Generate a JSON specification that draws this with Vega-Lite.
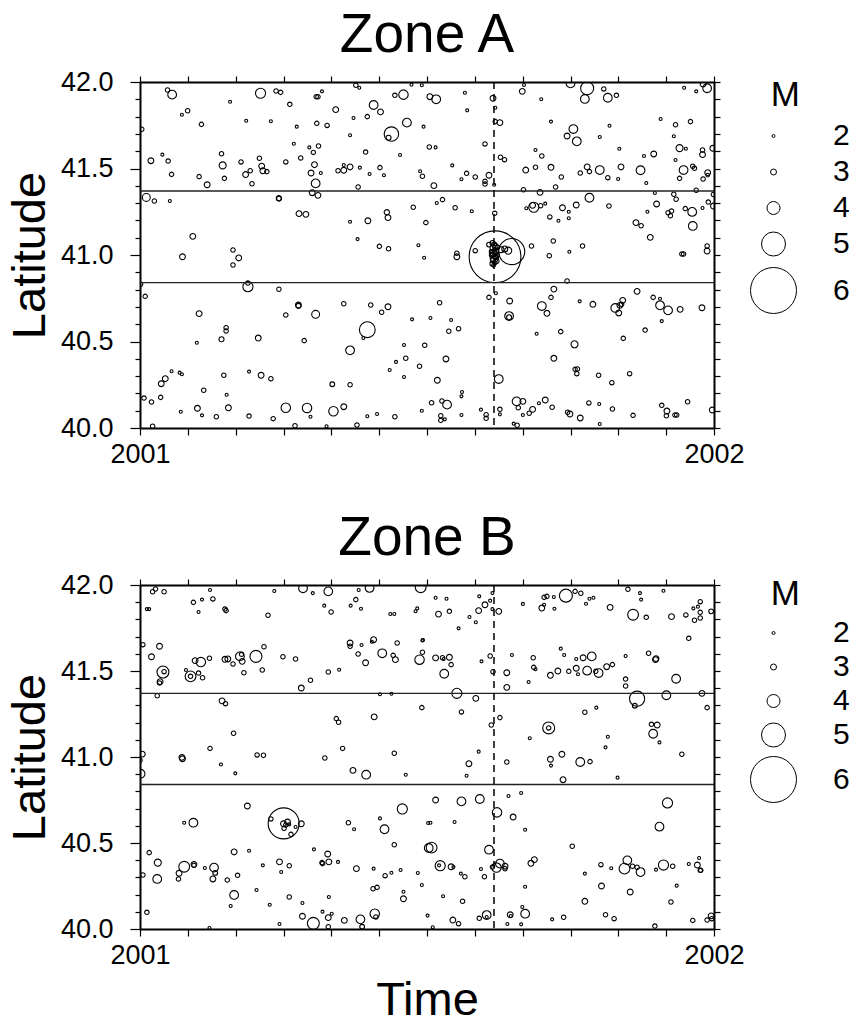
{
  "$schema": "https://vega.github.io/schema/vega-lite/v6.json",
  "background": "white",
  "padding": {"left": 6, "top": 8, "right": 5, "bottom": 0},
  "spacing": 44,
  "config": {
    "font": "Liberation Sans",
    "view": {"stroke": null},
    "axis": {"domainColor": "black", "domainWidth": 2, "tickColor": "black", "tickWidth": 1.2, "labelColor": "black", "titleColor": "black", "labelFont": "Liberation Sans", "titleFont": "Liberation Sans", "titleFontWeight": "normal", "labelFontSize": 27, "titleFontSize": 47, "grid": false, "labelFlush": false},
    "legend": {"titleFont": "Liberation Sans", "labelFont": "Liberation Sans", "titleColor": "black", "labelColor": "black"},
    "title": {"font": "Liberation Sans", "fontSize": 55, "fontWeight": "normal", "color": "black", "anchor": "middle"}
  },
  "datasets": {
    "zoneA": [
      {"t":2001.048,"lat":41.954,"m":2.4},{"t":2001.056,"lat":41.927,"m":3.3},{"t":2001.157,"lat":41.886,"m":2.0},{"t":2001.210,"lat":41.935,"m":3.5},{"t":2001.237,"lat":41.948,"m":2.4},{"t":2001.245,"lat":41.940,"m":2.4},{"t":2001.261,"lat":41.871,"m":2.4},{"t":2001.307,"lat":41.915,"m":2.4},{"t":2001.310,"lat":41.915,"m":2.4},{"t":2001.317,"lat":41.946,"m":2.0},{"t":2001.376,"lat":41.981,"m":2.4},{"t":2001.382,"lat":41.967,"m":2.0},{"t":2001.073,"lat":41.811,"m":2.0},{"t":2001.083,"lat":41.834,"m":2.4},{"t":2001.107,"lat":41.755,"m":2.4},{"t":2001.185,"lat":41.776,"m":2.0},{"t":2001.228,"lat":41.773,"m":2.0},{"t":2001.273,"lat":41.742,"m":2.0},{"t":2001.308,"lat":41.761,"m":2.4},{"t":2001.326,"lat":41.749,"m":2.4},{"t":2001.341,"lat":41.840,"m":2.9},{"t":2001.372,"lat":41.792,"m":2.0},{"t":2001.366,"lat":41.692,"m":2.0},{"t":2001.396,"lat":41.800,"m":2.4},{"t":2001.407,"lat":41.867,"m":3.3},{"t":2001.419,"lat":41.827,"m":2.9},{"t":2001.438,"lat":41.699,"m":4.1},{"t":2001.433,"lat":41.678,"m":2.6},{"t":2001.465,"lat":41.765,"m":3.3},{"t":2001.494,"lat":41.742,"m":2.0},{"t":2001.444,"lat":41.923,"m":2.4},{"t":2001.459,"lat":41.927,"m":3.4},{"t":2001.473,"lat":41.984,"m":2.0},{"t":2001.491,"lat":41.981,"m":2.0},
      {"t":2001.003,"lat":41.727,"m":2.4},{"t":2001.019,"lat":41.545,"m":2.9},{"t":2001.039,"lat":41.580,"m":2.0},{"t":2001.049,"lat":41.543,"m":2.4},{"t":2001.055,"lat":41.466,"m":2.4},{"t":2001.103,"lat":41.453,"m":2.4},{"t":2001.117,"lat":41.406,"m":2.9},{"t":2001.142,"lat":41.585,"m":2.4},{"t":2001.144,"lat":41.518,"m":3.1},{"t":2001.147,"lat":41.443,"m":2.4},{"t":2001.176,"lat":41.538,"m":2.4},{"t":2001.184,"lat":41.465,"m":2.9},{"t":2001.192,"lat":41.487,"m":2.4},{"t":2001.195,"lat":41.412,"m":2.4},{"t":2001.208,"lat":41.559,"m":2.4},{"t":2001.212,"lat":41.514,"m":2.9},{"t":2001.214,"lat":41.487,"m":2.9},{"t":2001.221,"lat":41.482,"m":2.4},{"t":2001.254,"lat":41.538,"m":2.4},{"t":2001.268,"lat":41.643,"m":2.0},{"t":2001.280,"lat":41.561,"m":2.4},{"t":2001.295,"lat":41.622,"m":2.0},{"t":2001.302,"lat":41.593,"m":2.4},{"t":2001.311,"lat":41.630,"m":2.4},{"t":2001.304,"lat":41.522,"m":2.9},{"t":2001.298,"lat":41.474,"m":2.9},{"t":2001.315,"lat":41.474,"m":2.0},{"t":2001.306,"lat":41.414,"m":3.3},{"t":2001.345,"lat":41.487,"m":2.4},{"t":2001.355,"lat":41.520,"m":2.0},{"t":2001.355,"lat":41.490,"m":2.9},{"t":2001.366,"lat":41.509,"m":2.9},{"t":2001.383,"lat":41.505,"m":2.0},{"t":2001.400,"lat":41.468,"m":2.0},{"t":2001.418,"lat":41.505,"m":2.4},{"t":2001.425,"lat":41.461,"m":2.0},{"t":2001.380,"lat":41.393,"m":2.4},{"t":2001.393,"lat":41.595,"m":2.4},{"t":2001.453,"lat":41.578,"m":2.0},{"t":2001.488,"lat":41.484,"m":2.0},{"t":2001.492,"lat":41.455,"m":2.4},{"t":2001.504,"lat":41.624,"m":2.4},
      {"t":2001.011,"lat":41.333,"m":3.2},{"t":2001.025,"lat":41.312,"m":2.4},{"t":2001.052,"lat":41.312,"m":2.0},{"t":2001.242,"lat":41.326,"m":2.5},{"t":2001.242,"lat":41.328,"m":2.7},{"t":2001.300,"lat":41.360,"m":2.9},{"t":2001.310,"lat":41.345,"m":2.9},{"t":2001.277,"lat":41.239,"m":2.9},{"t":2001.289,"lat":41.235,"m":2.9},{"t":2001.092,"lat":41.108,"m":2.9},{"t":2001.162,"lat":41.029,"m":2.4},{"t":2001.366,"lat":41.192,"m":2.0},{"t":2001.397,"lat":41.198,"m":2.9},{"t":2001.430,"lat":41.247,"m":2.7},{"t":2001.432,"lat":41.216,"m":2.9},{"t":2001.476,"lat":41.276,"m":2.4},{"t":2001.498,"lat":41.187,"m":2.4},{"t":2001.379,"lat":41.092,"m":2.0},{"t":2001.417,"lat":41.050,"m":2.4},{"t":2001.433,"lat":41.036,"m":2.4},{"t":2001.485,"lat":41.056,"m":2.0},{"t":2001.074,"lat":40.990,"m":2.9},
      {"t":2001.162,"lat":40.942,"m":2.4},{"t":2001.172,"lat":40.983,"m":2.9},{"t":2001.495,"lat":40.984,"m":2.0},{"t":2001.001,"lat":40.831,"m":2.4},{"t":2001.009,"lat":40.761,"m":2.4},{"t":2001.188,"lat":40.817,"m":3.5},{"t":2001.188,"lat":40.838,"m":2.4},{"t":2001.242,"lat":40.802,"m":2.4},{"t":2001.276,"lat":40.711,"m":2.9},{"t":2001.276,"lat":40.706,"m":2.6},{"t":2001.103,"lat":40.661,"m":2.9},{"t":2001.254,"lat":40.653,"m":2.4},{"t":2001.306,"lat":40.657,"m":3.2},{"t":2001.355,"lat":40.718,"m":2.4},{"t":2001.402,"lat":40.711,"m":2.4},{"t":2001.421,"lat":40.669,"m":2.4},{"t":2001.432,"lat":40.701,"m":2.9},{"t":2001.474,"lat":40.628,"m":2.0},{"t":2001.150,"lat":40.580,"m":2.4},{"t":2001.150,"lat":40.561,"m":2.4},{"t":2001.142,"lat":40.513,"m":2.6},{"t":2001.099,"lat":40.493,"m":2.0},{"t":2001.206,"lat":40.520,"m":2.9},{"t":2001.286,"lat":40.505,"m":2.4},{"t":2001.396,"lat":40.568,"m":4.2},{"t":2001.389,"lat":40.520,"m":2.0},{"t":2001.366,"lat":40.449,"m":3.3},{"t":2001.460,"lat":40.480,"m":2.0},{"t":2001.496,"lat":40.478,"m":2.4},{"t":2001.446,"lat":40.382,"m":2.0},{"t":2001.463,"lat":40.403,"m":2.4},{"t":2001.435,"lat":40.335,"m":2.0},{"t":2001.460,"lat":40.295,"m":2.0},{"t":2001.487,"lat":40.357,"m":2.4},{"t":2001.055,"lat":40.328,"m":2.0},{"t":2001.044,"lat":40.285,"m":2.9},{"t":2001.037,"lat":40.256,"m":2.9},{"t":2001.069,"lat":40.320,"m":2.0},{"t":2001.073,"lat":40.311,"m":2.0},{"t":2001.146,"lat":40.305,"m":2.4},{"t":2001.190,"lat":40.326,"m":2.0},{"t":2001.211,"lat":40.305,"m":2.9},{"t":2001.228,"lat":40.285,"m":2.4},{"t":2001.111,"lat":40.218,"m":2.4},{"t":2001.151,"lat":40.192,"m":2.0},{"t":2001.335,"lat":40.253,"m":2.5},{"t":2001.366,"lat":40.250,"m":2.4},{"t":2001.007,"lat":40.173,"m":2.4},{"t":2001.020,"lat":40.150,"m":2.4},{"t":2001.036,"lat":40.177,"m":2.4},{"t":2001.071,"lat":40.094,"m":2.0},{"t":2001.100,"lat":40.114,"m":2.9},{"t":2001.108,"lat":40.073,"m":2.0},{"t":2001.133,"lat":40.065,"m":2.4},{"t":2001.154,"lat":40.117,"m":2.9},{"t":2001.190,"lat":40.069,"m":2.4},{"t":2001.232,"lat":40.054,"m":2.4},{"t":2001.254,"lat":40.117,"m":3.4},{"t":2001.291,"lat":40.116,"m":3.4},{"t":2001.297,"lat":40.065,"m":2.0},{"t":2001.337,"lat":40.097,"m":3.4},{"t":2001.355,"lat":40.123,"m":2.9},{"t":2001.396,"lat":40.068,"m":2.0},{"t":2001.413,"lat":40.081,"m":2.0},{"t":2001.444,"lat":40.065,"m":2.4},{"t":2001.491,"lat":40.100,"m":2.0},{"t":2001.022,"lat":40.010,"m":2.4},{"t":2001.270,"lat":40.013,"m":2.4},{"t":2001.325,"lat":40.010,"m":2.0},{"t":2001.378,"lat":40.017,"m":2.4},
      {"t":2001.566,"lat":41.938,"m":2.0},{"t":2001.505,"lat":41.915,"m":2.9},{"t":2001.516,"lat":41.900,"m":3.3},{"t":2001.570,"lat":41.836,"m":2.0},{"t":2001.615,"lat":41.906,"m":2.9},{"t":2001.619,"lat":41.851,"m":2.0},{"t":2001.619,"lat":41.771,"m":2.4},{"t":2001.627,"lat":41.765,"m":2.9},{"t":2001.601,"lat":41.642,"m":2.4},{"t":2001.515,"lat":41.622,"m":2.0},{"t":2001.544,"lat":41.518,"m":2.0},{"t":2001.560,"lat":41.438,"m":2.0},{"t":2001.569,"lat":41.472,"m":2.4},{"t":2001.584,"lat":41.451,"m":2.4},{"t":2001.608,"lat":41.461,"m":2.9},{"t":2001.601,"lat":41.426,"m":2.4},{"t":2001.601,"lat":41.410,"m":2.4},{"t":2001.617,"lat":41.406,"m":2.0},{"t":2001.512,"lat":41.401,"m":2.9},{"t":2001.628,"lat":41.565,"m":2.4},{"t":2001.635,"lat":41.551,"m":2.4},{"t":2001.666,"lat":41.946,"m":2.9},{"t":2001.669,"lat":41.983,"m":2.0},{"t":2001.699,"lat":41.900,"m":2.0},{"t":2001.750,"lat":41.992,"m":3.3},{"t":2001.779,"lat":41.964,"m":4.0},{"t":2001.775,"lat":41.902,"m":3.3},{"t":2001.808,"lat":41.960,"m":2.4},{"t":2001.815,"lat":41.909,"m":3.3},{"t":2001.830,"lat":41.923,"m":2.4},{"t":2001.716,"lat":41.771,"m":2.0},{"t":2001.755,"lat":41.728,"m":3.3},{"t":2001.744,"lat":41.688,"m":2.9},{"t":2001.761,"lat":41.657,"m":3.3},{"t":2001.801,"lat":41.682,"m":2.0},{"t":2001.818,"lat":41.747,"m":2.0},{"t":2001.689,"lat":41.607,"m":2.0},{"t":2001.700,"lat":41.572,"m":2.4},{"t":2001.672,"lat":41.491,"m":2.9},{"t":2001.689,"lat":41.507,"m":2.4},{"t":2001.716,"lat":41.507,"m":2.9},{"t":2001.734,"lat":41.451,"m":2.4},{"t":2001.724,"lat":41.393,"m":2.4},{"t":2001.767,"lat":41.474,"m":2.4},{"t":2001.779,"lat":41.509,"m":2.9},{"t":2001.783,"lat":41.482,"m":2.4},{"t":2001.801,"lat":41.491,"m":3.3},{"t":2001.815,"lat":41.447,"m":2.4},{"t":2001.833,"lat":41.439,"m":2.0},{"t":2001.835,"lat":41.614,"m":2.0},{"t":2001.838,"lat":41.509,"m":2.9},{"t":2001.872,"lat":41.490,"m":3.3},{"t":2001.878,"lat":41.572,"m":2.0},{"t":2001.895,"lat":41.584,"m":2.9},{"t":2001.882,"lat":41.416,"m":2.0},{"t":2001.907,"lat":41.786,"m":2.0},{"t":2001.933,"lat":41.753,"m":2.4},{"t":2001.930,"lat":41.686,"m":2.0},{"t":2001.959,"lat":41.771,"m":2.4},{"t":2001.940,"lat":41.618,"m":3.1},{"t":2001.951,"lat":41.614,"m":2.0},{"t":2001.933,"lat":41.549,"m":2.0},{"t":2001.980,"lat":41.607,"m":2.4},{"t":2001.980,"lat":41.580,"m":2.9},{"t":2001.998,"lat":41.617,"m":2.9},{"t":2001.947,"lat":41.491,"m":3.3},{"t":2001.963,"lat":41.513,"m":2.4},{"t":2001.966,"lat":41.501,"m":2.4},{"t":2001.940,"lat":41.443,"m":2.4},{"t":2001.981,"lat":41.439,"m":2.4},{"t":2001.989,"lat":41.476,"m":2.9},{"t":2001.989,"lat":41.462,"m":2.2},{"t":2001.948,"lat":41.967,"m":2.0},{"t":2001.969,"lat":41.946,"m":2.0},{"t":2001.981,"lat":41.988,"m":2.9},{"t":2001.988,"lat":41.964,"m":3.3},
      {"t":2001.668,"lat":41.377,"m":2.4},{"t":2001.697,"lat":41.362,"m":2.9},{"t":2001.517,"lat":41.301,"m":2.0},{"t":2001.527,"lat":41.320,"m":2.4},{"t":2001.549,"lat":41.273,"m":2.4},{"t":2001.578,"lat":41.253,"m":2.0},{"t":2001.618,"lat":41.241,"m":2.4},{"t":2001.684,"lat":41.287,"m":2.9},{"t":2001.686,"lat":41.276,"m":3.5},{"t":2001.673,"lat":41.270,"m":2.0},{"t":2001.698,"lat":41.285,"m":2.4},{"t":2001.706,"lat":41.297,"m":2.0},{"t":2001.714,"lat":41.220,"m":2.4},{"t":2001.729,"lat":41.198,"m":2.0},{"t":2001.736,"lat":41.273,"m":2.9},{"t":2001.747,"lat":41.250,"m":2.0},{"t":2001.747,"lat":41.212,"m":2.0},{"t":2001.760,"lat":41.289,"m":2.9},{"t":2001.783,"lat":41.331,"m":3.3},{"t":2001.817,"lat":41.283,"m":2.4},{"t":2001.720,"lat":41.081,"m":2.4},{"t":2001.771,"lat":41.052,"m":2.4},{"t":2001.748,"lat":41.019,"m":2.0},{"t":2001.682,"lat":41.052,"m":2.4},{"t":2001.552,"lat":41.010,"m":2.4},{"t":2001.584,"lat":41.025,"m":2.4},{"t":2001.864,"lat":41.187,"m":2.9},{"t":2001.873,"lat":41.169,"m":2.4},{"t":2001.884,"lat":41.250,"m":2.0},{"t":2001.897,"lat":41.358,"m":2.0},{"t":2001.900,"lat":41.295,"m":2.9},{"t":2001.889,"lat":41.102,"m":2.9},{"t":2001.920,"lat":41.244,"m":2.4},{"t":2001.926,"lat":41.254,"m":2.4},{"t":2001.924,"lat":41.227,"m":2.4},{"t":2001.930,"lat":41.351,"m":2.4},{"t":2001.934,"lat":41.322,"m":2.4},{"t":2001.950,"lat":41.268,"m":2.4},{"t":2001.962,"lat":41.249,"m":3.3},{"t":2001.963,"lat":41.168,"m":3.3},{"t":2001.980,"lat":41.272,"m":2.0},{"t":2001.990,"lat":41.306,"m":2.4},{"t":2001.999,"lat":41.283,"m":2.9},{"t":2001.999,"lat":41.350,"m":2.4},{"t":2001.969,"lat":41.374,"m":2.4},{"t":2001.988,"lat":41.052,"m":2.4},{"t":2001.988,"lat":41.023,"m":2.9},{"t":2001.944,"lat":41.006,"m":2.4},{"t":2001.947,"lat":41.006,"m":2.4},
      {"t":2001.6185,"lat":40.990,"m":6.1},{"t":2001.6475,"lat":41.020,"m":5.07},{"t":2001.614,"lat":41.070,"m":2.5},{"t":2001.617,"lat":41.060,"m":2.6},{"t":2001.619,"lat":41.050,"m":2.8},{"t":2001.615,"lat":41.040,"m":3.0},{"t":2001.618,"lat":41.030,"m":2.4},{"t":2001.620,"lat":41.020,"m":2.7},{"t":2001.616,"lat":41.010,"m":3.1},{"t":2001.613,"lat":41.000,"m":2.6},{"t":2001.619,"lat":40.990,"m":2.9},{"t":2001.617,"lat":40.980,"m":3.2},{"t":2001.615,"lat":40.970,"m":2.5},{"t":2001.621,"lat":40.965,"m":2.7},{"t":2001.618,"lat":40.955,"m":2.4},{"t":2001.614,"lat":40.950,"m":2.6},{"t":2001.620,"lat":40.985,"m":2.3},{"t":2001.612,"lat":41.020,"m":2.3},{"t":2001.622,"lat":41.000,"m":2.5},{"t":2001.616,"lat":40.940,"m":2.2},{"t":2001.623,"lat":41.045,"m":2.4},{"t":2001.629,"lat":41.030,"m":3.0},{"t":2001.6355,"lat":41.035,"m":3.0},{"t":2001.6415,"lat":41.025,"m":3.1},{"t":2001.608,"lat":41.060,"m":2.5},
      {"t":2001.552,"lat":40.990,"m":2.9},{"t":2001.713,"lat":40.996,"m":2.4},{"t":2001.744,"lat":40.850,"m":2.4},{"t":2001.721,"lat":40.803,"m":2.9},{"t":2001.716,"lat":40.755,"m":2.4},{"t":2001.608,"lat":40.755,"m":2.4},{"t":2001.620,"lat":40.779,"m":2.0},{"t":2001.644,"lat":40.734,"m":2.9},{"t":2001.643,"lat":40.647,"m":3.3},{"t":2001.643,"lat":40.640,"m":2.6},{"t":2001.522,"lat":40.724,"m":2.4},{"t":2001.506,"lat":40.636,"m":2.0},{"t":2001.542,"lat":40.624,"m":2.0},{"t":2001.538,"lat":40.559,"m":2.4},{"t":2001.555,"lat":40.574,"m":2.4},{"t":2001.700,"lat":40.705,"m":3.3},{"t":2001.709,"lat":40.663,"m":2.9},{"t":2001.691,"lat":40.545,"m":2.0},{"t":2001.733,"lat":40.557,"m":2.4},{"t":2001.766,"lat":40.732,"m":2.0},{"t":2001.789,"lat":40.715,"m":2.9},{"t":2001.757,"lat":40.484,"m":3.1},{"t":2001.721,"lat":40.403,"m":2.9},{"t":2001.758,"lat":40.339,"m":2.4},{"t":2001.762,"lat":40.341,"m":2.4},{"t":2001.761,"lat":40.314,"m":2.4},{"t":2001.799,"lat":40.305,"m":2.4},{"t":2001.822,"lat":40.262,"m":2.4},{"t":2001.853,"lat":40.314,"m":2.4},{"t":2001.828,"lat":40.694,"m":3.3},{"t":2001.834,"lat":40.665,"m":2.9},{"t":2001.836,"lat":40.709,"m":2.9},{"t":2001.841,"lat":40.738,"m":2.9},{"t":2001.839,"lat":40.715,"m":2.4},{"t":2001.842,"lat":40.518,"m":2.4},{"t":2001.866,"lat":40.790,"m":2.9},{"t":2001.880,"lat":40.566,"m":2.4},{"t":2001.894,"lat":40.755,"m":2.4},{"t":2001.906,"lat":40.747,"m":2.0},{"t":2001.906,"lat":40.709,"m":3.3},{"t":2001.920,"lat":40.680,"m":3.3},{"t":2001.909,"lat":40.618,"m":2.0},{"t":2001.941,"lat":40.686,"m":2.9},{"t":2001.979,"lat":40.695,"m":2.9},{"t":2001.533,"lat":40.399,"m":2.9},{"t":2001.518,"lat":40.276,"m":2.9},{"t":2001.625,"lat":40.283,"m":3.3},{"t":2001.561,"lat":40.208,"m":2.0},{"t":2001.560,"lat":40.183,"m":2.0},{"t":2001.508,"lat":40.146,"m":2.4},{"t":2001.526,"lat":40.156,"m":2.4},{"t":2001.535,"lat":40.135,"m":3.3},{"t":2001.524,"lat":40.071,"m":2.4},{"t":2001.524,"lat":40.044,"m":2.4},{"t":2001.531,"lat":40.050,"m":2.0},{"t":2001.560,"lat":40.075,"m":2.0},{"t":2001.594,"lat":40.106,"m":2.0},{"t":2001.603,"lat":40.077,"m":2.4},{"t":2001.603,"lat":40.056,"m":2.4},{"t":2001.627,"lat":40.108,"m":2.4},{"t":2001.627,"lat":40.079,"m":2.0},{"t":2001.656,"lat":40.154,"m":3.3},{"t":2001.667,"lat":40.154,"m":2.9},{"t":2001.659,"lat":40.117,"m":2.4},{"t":2001.667,"lat":40.075,"m":2.0},{"t":2001.651,"lat":40.025,"m":2.0},{"t":2001.657,"lat":40.016,"m":2.4},{"t":2001.678,"lat":40.085,"m":2.4},{"t":2001.684,"lat":40.108,"m":2.9},{"t":2001.695,"lat":40.143,"m":2.0},{"t":2001.706,"lat":40.162,"m":2.9},{"t":2001.718,"lat":40.120,"m":2.4},{"t":2001.745,"lat":40.091,"m":2.4},{"t":2001.749,"lat":40.081,"m":2.9},{"t":2001.767,"lat":40.058,"m":2.9},{"t":2001.782,"lat":40.145,"m":2.4},{"t":2001.800,"lat":40.139,"m":2.0},{"t":2001.801,"lat":40.023,"m":2.0},{"t":2001.823,"lat":40.110,"m":2.4},{"t":2001.859,"lat":40.073,"m":2.4},{"t":2001.909,"lat":40.131,"m":2.4},{"t":2001.918,"lat":40.098,"m":2.9},{"t":2001.917,"lat":40.071,"m":2.4},{"t":2001.932,"lat":40.075,"m":2.4},{"t":2001.935,"lat":40.075,"m":2.4},{"t":2001.954,"lat":40.152,"m":2.4},{"t":2001.997,"lat":40.104,"m":2.9}
    ],
    "zoneB": [
      {"t":2001.022,"lat":41.961,"m":2.4},{"t":2001.027,"lat":41.977,"m":2.4},{"t":2001.042,"lat":41.961,"m":2.4},{"t":2001.122,"lat":41.971,"m":2.0},{"t":2001.093,"lat":41.899,"m":2.4},{"t":2001.108,"lat":41.915,"m":2.0},{"t":2001.127,"lat":41.919,"m":2.4},{"t":2001.102,"lat":41.843,"m":2.0},{"t":2001.012,"lat":41.860,"m":2.0},{"t":2001.016,"lat":41.860,"m":2.0},{"t":2001.148,"lat":41.860,"m":2.4},{"t":2001.150,"lat":41.851,"m":2.4},{"t":2001.223,"lat":41.824,"m":2.4},{"t":2001.234,"lat":41.965,"m":2.0},{"t":2001.284,"lat":41.981,"m":3.3},{"t":2001.301,"lat":41.953,"m":2.0},{"t":2001.328,"lat":41.963,"m":3.3},{"t":2001.321,"lat":41.880,"m":2.0},{"t":2001.333,"lat":41.843,"m":2.4},{"t":2001.376,"lat":41.915,"m":2.4},{"t":2001.367,"lat":41.880,"m":2.0},{"t":2001.381,"lat":41.971,"m":2.0},{"t":2001.385,"lat":41.862,"m":2.0},{"t":2001.400,"lat":41.983,"m":3.3},{"t":2001.436,"lat":41.831,"m":2.0},{"t":2001.443,"lat":41.831,"m":2.0},{"t":2001.480,"lat":41.847,"m":2.0},{"t":2001.483,"lat":41.864,"m":2.0},{"t":2001.489,"lat":41.987,"m":3.6},
      {"t":2001.005,"lat":41.653,"m":2.4},{"t":2001.034,"lat":41.644,"m":2.9},{"t":2001.020,"lat":41.583,"m":2.9},{"t":2001.040,"lat":41.494,"m":3.8},{"t":2001.042,"lat":41.496,"m":2.4},{"t":2001.035,"lat":41.438,"m":2.9},{"t":2001.034,"lat":41.430,"m":2.4},{"t":2001.080,"lat":41.506,"m":2.0},{"t":2001.088,"lat":41.469,"m":3.6},{"t":2001.088,"lat":41.469,"m":2.4},{"t":2001.096,"lat":41.560,"m":2.9},{"t":2001.106,"lat":41.552,"m":3.4},{"t":2001.102,"lat":41.488,"m":2.4},{"t":2001.109,"lat":41.461,"m":2.4},{"t":2001.121,"lat":41.574,"m":2.4},{"t":2001.148,"lat":41.568,"m":2.9},{"t":2001.153,"lat":41.570,"m":2.9},{"t":2001.162,"lat":41.541,"m":2.4},{"t":2001.174,"lat":41.585,"m":3.3},{"t":2001.178,"lat":41.556,"m":2.9},{"t":2001.177,"lat":41.597,"m":2.4},{"t":2001.181,"lat":41.490,"m":2.4},{"t":2001.202,"lat":41.585,"m":3.8},{"t":2001.216,"lat":41.641,"m":2.4},{"t":2001.213,"lat":41.506,"m":2.4},{"t":2001.249,"lat":41.583,"m":2.4},{"t":2001.271,"lat":41.570,"m":2.4},{"t":2001.281,"lat":41.401,"m":2.9},{"t":2001.297,"lat":41.446,"m":2.4},{"t":2001.328,"lat":41.494,"m":2.4},{"t":2001.347,"lat":41.507,"m":2.0},{"t":2001.366,"lat":41.663,"m":2.9},{"t":2001.366,"lat":41.644,"m":2.4},{"t":2001.386,"lat":41.651,"m":2.0},{"t":2001.380,"lat":41.599,"m":2.4},{"t":2001.393,"lat":41.548,"m":2.9},{"t":2001.404,"lat":41.670,"m":2.0},{"t":2001.407,"lat":41.682,"m":2.9},{"t":2001.422,"lat":41.603,"m":3.3},{"t":2001.441,"lat":41.591,"m":2.4},{"t":2001.445,"lat":41.566,"m":2.9},{"t":2001.448,"lat":41.663,"m":2.4},{"t":2001.487,"lat":41.566,"m":3.4},{"t":2001.492,"lat":41.678,"m":2.0},{"t":2001.492,"lat":41.609,"m":2.4},
      {"t":2001.030,"lat":41.356,"m":2.4},{"t":2001.143,"lat":41.326,"m":2.9},{"t":2001.149,"lat":41.310,"m":2.4},{"t":2001.163,"lat":41.138,"m":2.4},{"t":2001.122,"lat":41.050,"m":2.4},{"t":2001.004,"lat":41.017,"m":2.9},{"t":2001.204,"lat":41.012,"m":2.4},{"t":2001.215,"lat":41.010,"m":2.4},{"t":2001.322,"lat":40.994,"m":2.4},{"t":2001.342,"lat":41.223,"m":2.4},{"t":2001.346,"lat":41.202,"m":2.4},{"t":2001.353,"lat":41.050,"m":2.4},{"t":2001.408,"lat":41.233,"m":2.9},{"t":2001.418,"lat":41.365,"m":2.0},{"t":2001.438,"lat":41.368,"m":2.0},{"t":2001.443,"lat":41.022,"m":2.4},{"t":2001.491,"lat":41.287,"m":2.4},{"t":2001.073,"lat":40.998,"m":2.9},
      {"t":2001.074,"lat":40.990,"m":2.9},{"t":2001.001,"lat":40.903,"m":3.3},{"t":2001.000,"lat":40.981,"m":2.4},{"t":2001.141,"lat":40.956,"m":2.0},{"t":2001.166,"lat":40.905,"m":2.0},{"t":2001.371,"lat":40.922,"m":2.9},{"t":2001.394,"lat":40.897,"m":3.3},{"t":2001.463,"lat":40.897,"m":2.0},{"t":2001.187,"lat":40.715,"m":2.9},{"t":2001.077,"lat":40.618,"m":2.0},{"t":2001.093,"lat":40.618,"m":3.3},{"t":2001.2503,"lat":40.614,"m":5.25},{"t":2001.228,"lat":40.640,"m":2.4},{"t":2001.250,"lat":40.612,"m":2.9},{"t":2001.257,"lat":40.622,"m":2.9},{"t":2001.254,"lat":40.605,"m":2.4},{"t":2001.260,"lat":40.608,"m":2.0},{"t":2001.251,"lat":40.585,"m":2.4},{"t":2001.263,"lat":40.550,"m":2.4},{"t":2001.271,"lat":40.593,"m":2.0},{"t":2001.281,"lat":40.612,"m":2.9},{"t":2001.363,"lat":40.618,"m":2.4},{"t":2001.373,"lat":40.580,"m":2.0},{"t":2001.418,"lat":40.643,"m":2.0},{"t":2001.426,"lat":40.580,"m":3.3},{"t":2001.457,"lat":40.698,"m":3.5},{"t":2001.443,"lat":40.490,"m":2.4},{"t":2001.502,"lat":40.616,"m":2.0},{"t":2001.503,"lat":40.471,"m":3.3},{"t":2001.016,"lat":40.444,"m":2.4},{"t":2001.031,"lat":40.386,"m":3.1},{"t":2001.077,"lat":40.362,"m":3.6},{"t":2001.094,"lat":40.376,"m":2.9},{"t":2001.094,"lat":40.370,"m":2.4},{"t":2001.113,"lat":40.355,"m":2.0},{"t":2001.129,"lat":40.357,"m":3.3},{"t":2001.131,"lat":40.326,"m":2.5},{"t":2001.068,"lat":40.324,"m":2.9},{"t":2001.067,"lat":40.291,"m":2.4},{"t":2001.030,"lat":40.291,"m":3.3},{"t":2001.005,"lat":40.314,"m":2.4},{"t":2001.127,"lat":40.291,"m":2.9},{"t":2001.152,"lat":40.285,"m":2.4},{"t":2001.164,"lat":40.448,"m":2.9},{"t":2001.190,"lat":40.455,"m":2.0},{"t":2001.170,"lat":40.312,"m":2.4},{"t":2001.164,"lat":40.198,"m":3.3},{"t":2001.158,"lat":40.134,"m":2.0},{"t":2001.012,"lat":40.097,"m":2.4},{"t":2001.121,"lat":40.006,"m":2.0},{"t":2001.203,"lat":40.227,"m":2.0},{"t":2001.214,"lat":40.370,"m":2.0},{"t":2001.226,"lat":40.141,"m":2.0},{"t":2001.243,"lat":40.390,"m":2.9},{"t":2001.246,"lat":40.331,"m":2.0},{"t":2001.260,"lat":40.368,"m":2.4},{"t":2001.260,"lat":40.186,"m":2.4},{"t":2001.243,"lat":40.029,"m":2.0},{"t":2001.283,"lat":40.151,"m":2.0},{"t":2001.303,"lat":40.463,"m":2.0},{"t":2001.327,"lat":40.436,"m":2.9},{"t":2001.317,"lat":40.386,"m":2.4},{"t":2001.318,"lat":40.380,"m":2.4},{"t":2001.329,"lat":40.390,"m":2.9},{"t":2001.345,"lat":40.390,"m":2.0},{"t":2001.329,"lat":40.186,"m":2.0},{"t":2001.283,"lat":40.074,"m":2.9},{"t":2001.302,"lat":40.033,"m":3.8},{"t":2001.318,"lat":40.101,"m":2.0},{"t":2001.328,"lat":40.066,"m":2.9},{"t":2001.334,"lat":40.089,"m":2.0},{"t":2001.328,"lat":40.013,"m":2.4},{"t":2001.356,"lat":40.050,"m":2.9},{"t":2001.384,"lat":40.056,"m":3.3},{"t":2001.387,"lat":40.013,"m":2.5},{"t":2001.377,"lat":40.351,"m":2.9},{"t":2001.407,"lat":40.351,"m":2.0},{"t":2001.427,"lat":40.310,"m":2.4},{"t":2001.438,"lat":40.327,"m":2.0},{"t":2001.454,"lat":40.343,"m":2.0},{"t":2001.484,"lat":40.326,"m":2.0},{"t":2001.406,"lat":40.234,"m":2.4},{"t":2001.413,"lat":40.242,"m":2.4},{"t":2001.459,"lat":40.217,"m":2.0},{"t":2001.459,"lat":40.176,"m":2.9},{"t":2001.491,"lat":40.256,"m":2.0},{"t":2001.409,"lat":40.089,"m":3.4},{"t":2001.411,"lat":40.070,"m":2.4},{"t":2001.501,"lat":40.078,"m":2.0},
      {"t":2001.515,"lat":41.926,"m":2.0},{"t":2001.534,"lat":41.920,"m":2.0},{"t":2001.591,"lat":41.934,"m":2.0},{"t":2001.610,"lat":41.909,"m":2.0},{"t":2001.601,"lat":41.885,"m":2.9},{"t":2001.614,"lat":41.953,"m":2.0},{"t":2001.614,"lat":41.860,"m":2.0},{"t":2001.625,"lat":41.847,"m":2.9},{"t":2001.590,"lat":41.851,"m":2.9},{"t":2001.520,"lat":41.831,"m":2.9},{"t":2001.539,"lat":41.847,"m":2.4},{"t":2001.574,"lat":41.814,"m":2.0},{"t":2001.585,"lat":41.783,"m":2.0},{"t":2001.555,"lat":41.748,"m":2.0},{"t":2001.493,"lat":41.680,"m":2.0},{"t":2001.667,"lat":41.890,"m":2.0},{"t":2001.700,"lat":41.866,"m":2.9},{"t":2001.704,"lat":41.885,"m":2.0},{"t":2001.704,"lat":41.928,"m":2.4},{"t":2001.709,"lat":41.934,"m":2.4},{"t":2001.721,"lat":41.930,"m":2.0},{"t":2001.722,"lat":41.862,"m":2.0},{"t":2001.742,"lat":41.938,"m":4.0},{"t":2001.758,"lat":41.963,"m":2.4},{"t":2001.768,"lat":41.952,"m":2.4},{"t":2001.777,"lat":41.891,"m":2.0},{"t":2001.783,"lat":41.920,"m":2.0},{"t":2001.790,"lat":41.926,"m":2.0},{"t":2001.819,"lat":41.870,"m":2.9},{"t":2001.850,"lat":41.975,"m":2.4},{"t":2001.871,"lat":41.953,"m":2.0},{"t":2001.873,"lat":41.915,"m":2.0},{"t":2001.859,"lat":41.827,"m":3.6},{"t":2001.882,"lat":41.812,"m":2.4},{"t":2001.912,"lat":41.967,"m":2.0},{"t":2001.926,"lat":41.816,"m":2.9},{"t":2001.951,"lat":41.826,"m":2.4},{"t":2001.976,"lat":41.903,"m":2.4},{"t":2001.964,"lat":41.864,"m":2.0},{"t":2001.972,"lat":41.874,"m":2.0},{"t":2001.976,"lat":41.841,"m":2.4},{"t":2001.976,"lat":41.808,"m":2.4},{"t":2001.966,"lat":41.795,"m":2.4},{"t":2001.995,"lat":41.847,"m":2.5},{"t":2001.956,"lat":41.690,"m":2.4},
      {"t":2001.515,"lat":41.576,"m":2.9},{"t":2001.527,"lat":41.577,"m":2.4},{"t":2001.529,"lat":41.570,"m":2.0},{"t":2001.539,"lat":41.580,"m":2.9},{"t":2001.542,"lat":41.537,"m":2.4},{"t":2001.530,"lat":41.484,"m":3.3},{"t":2001.595,"lat":41.556,"m":2.0},{"t":2001.610,"lat":41.587,"m":2.4},{"t":2001.615,"lat":41.496,"m":2.4},{"t":2001.648,"lat":41.593,"m":2.0},{"t":2001.639,"lat":41.490,"m":2.9},{"t":2001.639,"lat":41.405,"m":2.9},{"t":2001.685,"lat":41.577,"m":2.4},{"t":2001.686,"lat":41.521,"m":2.4},{"t":2001.689,"lat":41.510,"m":2.0},{"t":2001.677,"lat":41.436,"m":2.0},{"t":2001.715,"lat":41.475,"m":2.9},{"t":2001.728,"lat":41.500,"m":2.9},{"t":2001.733,"lat":41.630,"m":2.0},{"t":2001.739,"lat":41.593,"m":2.0},{"t":2001.747,"lat":41.498,"m":2.4},{"t":2001.760,"lat":41.570,"m":2.0},{"t":2001.760,"lat":41.516,"m":2.9},{"t":2001.763,"lat":41.481,"m":2.0},{"t":2001.772,"lat":41.577,"m":2.9},{"t":2001.779,"lat":41.502,"m":3.3},{"t":2001.787,"lat":41.585,"m":3.3},{"t":2001.794,"lat":41.498,"m":2.4},{"t":2001.799,"lat":41.488,"m":3.3},{"t":2001.813,"lat":41.525,"m":2.9},{"t":2001.823,"lat":41.537,"m":2.4},{"t":2001.846,"lat":41.453,"m":2.4},{"t":2001.846,"lat":41.413,"m":2.4},{"t":2001.846,"lat":41.587,"m":2.0},{"t":2001.886,"lat":41.603,"m":2.4},{"t":2001.898,"lat":41.566,"m":2.9},{"t":2001.899,"lat":41.572,"m":2.9},{"t":2001.934,"lat":41.455,"m":3.3},
      {"t":2001.552,"lat":41.370,"m":3.5},{"t":2001.585,"lat":41.341,"m":2.9},{"t":2001.560,"lat":41.262,"m":2.4},{"t":2001.627,"lat":41.229,"m":2.4},{"t":2001.612,"lat":41.186,"m":2.4},{"t":2001.866,"lat":41.339,"m":4.15},{"t":2001.862,"lat":41.298,"m":2.5},{"t":2001.917,"lat":41.359,"m":3.3},{"t":2001.979,"lat":41.370,"m":2.9},{"t":2001.988,"lat":41.287,"m":2.4},{"t":2001.775,"lat":41.260,"m":2.4},{"t":2001.795,"lat":41.287,"m":2.0},{"t":2001.712,"lat":41.169,"m":3.8},{"t":2001.712,"lat":41.169,"m":2.4},{"t":2001.679,"lat":41.109,"m":2.0},{"t":2001.815,"lat":41.118,"m":2.0},{"t":2001.811,"lat":41.056,"m":2.0},{"t":2001.891,"lat":41.190,"m":2.4},{"t":2001.901,"lat":41.186,"m":2.9},{"t":2001.894,"lat":41.135,"m":3.3},{"t":2001.905,"lat":41.085,"m":2.0},{"t":2001.590,"lat":41.031,"m":2.0},{"t":2001.735,"lat":41.016,"m":2.9},{"t":2001.944,"lat":41.016,"m":2.4},
      {"t":2001.573,"lat":40.961,"m":2.9},{"t":2001.569,"lat":40.891,"m":2.0},{"t":2001.639,"lat":40.971,"m":2.4},{"t":2001.715,"lat":40.987,"m":2.9},{"t":2001.716,"lat":40.950,"m":2.0},{"t":2001.767,"lat":40.971,"m":3.3},{"t":2001.784,"lat":40.973,"m":2.4},{"t":2001.832,"lat":40.880,"m":2.0},{"t":2001.737,"lat":40.868,"m":2.9},{"t":2001.515,"lat":40.750,"m":2.9},{"t":2001.560,"lat":40.742,"m":3.3},{"t":2001.592,"lat":40.756,"m":3.3},{"t":2001.622,"lat":40.678,"m":3.4},{"t":2001.642,"lat":40.773,"m":2.0},{"t":2001.664,"lat":40.791,"m":2.0},{"t":2001.650,"lat":40.651,"m":2.9},{"t":2001.506,"lat":40.618,"m":2.0},{"t":2001.548,"lat":40.622,"m":2.0},{"t":2001.671,"lat":40.577,"m":2.0},{"t":2001.919,"lat":40.733,"m":3.5},{"t":2001.905,"lat":40.595,"m":3.3},{"t":2001.753,"lat":40.481,"m":2.4},{"t":2001.508,"lat":40.473,"m":3.6},{"t":2001.608,"lat":40.461,"m":3.3},{"t":2001.523,"lat":40.368,"m":3.5},{"t":2001.521,"lat":40.370,"m":2.0},{"t":2001.542,"lat":40.362,"m":2.9},{"t":2001.546,"lat":40.360,"m":2.0},{"t":2001.594,"lat":40.349,"m":2.0},{"t":2001.559,"lat":40.322,"m":2.0},{"t":2001.566,"lat":40.304,"m":2.4},{"t":2001.600,"lat":40.304,"m":2.4},{"t":2001.614,"lat":40.360,"m":2.4},{"t":2001.621,"lat":40.357,"m":3.4},{"t":2001.627,"lat":40.380,"m":3.3},{"t":2001.636,"lat":40.365,"m":2.9},{"t":2001.636,"lat":40.350,"m":2.4},{"t":2001.681,"lat":40.382,"m":2.9},{"t":2001.687,"lat":40.403,"m":2.9},{"t":2001.775,"lat":40.322,"m":2.0},{"t":2001.803,"lat":40.374,"m":2.4},{"t":2001.821,"lat":40.353,"m":2.0},{"t":2001.844,"lat":40.351,"m":3.6},{"t":2001.849,"lat":40.399,"m":3.3},{"t":2001.858,"lat":40.365,"m":2.4},{"t":2001.866,"lat":40.359,"m":2.4},{"t":2001.872,"lat":40.331,"m":3.3},{"t":2001.899,"lat":40.345,"m":2.0},{"t":2001.912,"lat":40.372,"m":3.5},{"t":2001.928,"lat":40.365,"m":2.4},{"t":2001.956,"lat":40.378,"m":2.0},{"t":2001.971,"lat":40.372,"m":2.9},{"t":2001.974,"lat":40.413,"m":2.0},{"t":2001.976,"lat":40.341,"m":2.4},{"t":2001.977,"lat":40.341,"m":2.4},{"t":2001.804,"lat":40.250,"m":2.9},{"t":2001.854,"lat":40.215,"m":2.9},{"t":2001.935,"lat":40.252,"m":2.0},{"t":2001.528,"lat":40.190,"m":2.0},{"t":2001.562,"lat":40.161,"m":2.4},{"t":2001.671,"lat":40.246,"m":2.0},{"t":2001.775,"lat":40.161,"m":2.9},{"t":2001.925,"lat":40.157,"m":2.4},{"t":2001.666,"lat":40.128,"m":2.0},{"t":2001.545,"lat":40.052,"m":2.9},{"t":2001.555,"lat":40.031,"m":2.4},{"t":2001.591,"lat":40.062,"m":2.4},{"t":2001.604,"lat":40.081,"m":3.3},{"t":2001.604,"lat":40.070,"m":2.0},{"t":2001.645,"lat":40.083,"m":2.9},{"t":2001.646,"lat":40.076,"m":2.0},{"t":2001.671,"lat":40.089,"m":3.3},{"t":2001.640,"lat":40.029,"m":2.0},{"t":2001.664,"lat":40.027,"m":2.0},{"t":2001.718,"lat":40.056,"m":2.0},{"t":2001.738,"lat":40.068,"m":2.4},{"t":2001.811,"lat":40.083,"m":2.4},{"t":2001.826,"lat":40.060,"m":2.4},{"t":2001.897,"lat":40.017,"m":2.4},{"t":2001.963,"lat":40.050,"m":2.4},{"t":2001.988,"lat":40.052,"m":2.4},{"t":2001.995,"lat":40.076,"m":2.9},{"t":2001.996,"lat":40.060,"m":2.4},{"t":2001.510,"lat":40.010,"m":2.0}
    ],
    "bands": [{"lat": 41.37}, {"lat": 40.84}],
    "event": [{"t": 2001.6167}]
  },
  "vconcat": [
    {
      "title": {"text": "Zone A", "offset": 4},
      "width": 574,
      "height": 346,
      "layer": [
        {
          "data": {"name": "zoneA"},
          "mark": {"type": "point", "shape": "circle", "filled": false, "color": "black", "strokeWidth": 1.1, "opacity": 1, "clip": true},
          "encoding": {
            "x": {"field": "t", "type": "quantitative", "scale": {"domain": [2001, 2002], "nice": false, "zero": false},
              "axis": {"orient": "bottom", "title": null, "values": [2001, 2001.08333, 2001.16667, 2001.25, 2001.33333, 2001.41667, 2001.5, 2001.58333, 2001.66667, 2001.75, 2001.83333, 2001.91667, 2002], "labelExpr": "datum.value == 2001 ? '2001' : (datum.value == 2002 ? '2002' : '')", "tickSize": 7, "labelPadding": 6, "labelOverlap": false}},
            "y": {"field": "lat", "type": "quantitative", "scale": {"domain": [40, 42], "nice": false, "zero": false},
              "axis": {"orient": "left", "title": "Latitude", "titlePadding": 6, "values": [40, 40.1, 40.2, 40.3, 40.4, 40.5, 40.6, 40.7, 40.8, 40.9, 41, 41.1, 41.2, 41.3, 41.4, 41.5, 41.6, 41.7, 41.8, 41.9, 42], "labelExpr": "(datum.value * 2) % 1 == 0 ? format(datum.value, '.1f') : ''", "tickSize": {"condition": {"test": "(datum.value * 2) % 1 == 0", "value": 10}, "value": 5}, "labelPadding": 17, "labelOverlap": false}},
            "size": {"field": "m", "type": "quantitative", "scale": {"domain": [2, 3, 4, 5, 6, 7], "range": [9, 36, 169, 576, 2116, 7744]},
              "legend": {"title": "M", "values": [2, 3, 4, 5, 6], "orient": "none", "legendX": 610, "legendY": -4, "titleFontSize": 35, "titleFontWeight": "normal", "titleAnchor": "middle", "titleAlign": "right", "titlePadding": 8, "labelFontSize": 30, "labelOffset": 36, "rowPadding": 6, "symbolStrokeWidth": 1, "symbolStrokeColor": "black", "symbolFillColor": "transparent"}}
          }
        },
        {
          "data": {"name": "bands"},
          "mark": {"type": "rule", "color": "#222222", "strokeWidth": 1.3},
          "encoding": {
            "y": {"field": "lat", "type": "quantitative", "scale": {"domain": [40, 42], "nice": false, "zero": false},
              "axis": {"orient": "right", "title": null, "labels": false, "values": [40, 40.1, 40.2, 40.3, 40.4, 40.5, 40.6, 40.7, 40.8, 40.9, 41, 41.1, 41.2, 41.3, 41.4, 41.5, 41.6, 41.7, 41.8, 41.9, 42], "tickSize": 6}}
          }
        },
        {
          "data": {"name": "event"},
          "mark": {"type": "rule", "color": "black", "strokeWidth": 1.5, "strokeDash": [7, 5]},
          "encoding": {
            "x": {"field": "t", "type": "quantitative", "scale": {"domain": [2001, 2002], "nice": false, "zero": false},
              "axis": {"orient": "top", "title": null, "labels": false, "values": [2001, 2001.08333, 2001.16667, 2001.25, 2001.33333, 2001.41667, 2001.5, 2001.58333, 2001.66667, 2001.75, 2001.83333, 2001.91667, 2002], "tickSize": 6}}
          }
        }
      ],
      "resolve": {"axis": {"x": "independent", "y": "independent"}}
    },
    {
      "title": {"text": "Zone B", "offset": 4},
      "width": 574,
      "height": 344,
      "layer": [
        {
          "data": {"name": "zoneB"},
          "mark": {"type": "point", "shape": "circle", "filled": false, "color": "black", "strokeWidth": 1.1, "opacity": 1, "clip": true},
          "encoding": {
            "x": {"field": "t", "type": "quantitative", "scale": {"domain": [2001, 2002], "nice": false, "zero": false},
              "axis": {"orient": "bottom", "title": "Time", "titlePadding": 9, "values": [2001, 2001.08333, 2001.16667, 2001.25, 2001.33333, 2001.41667, 2001.5, 2001.58333, 2001.66667, 2001.75, 2001.83333, 2001.91667, 2002], "labelExpr": "datum.value == 2001 ? '2001' : (datum.value == 2002 ? '2002' : '')", "tickSize": 7, "labelPadding": 6, "labelOverlap": false}},
            "y": {"field": "lat", "type": "quantitative", "scale": {"domain": [40, 42], "nice": false, "zero": false},
              "axis": {"orient": "left", "title": "Latitude", "titlePadding": 6, "values": [40, 40.1, 40.2, 40.3, 40.4, 40.5, 40.6, 40.7, 40.8, 40.9, 41, 41.1, 41.2, 41.3, 41.4, 41.5, 41.6, 41.7, 41.8, 41.9, 42], "labelExpr": "(datum.value * 2) % 1 == 0 ? format(datum.value, '.1f') : ''", "tickSize": {"condition": {"test": "(datum.value * 2) % 1 == 0", "value": 10}, "value": 5}, "labelPadding": 17, "labelOverlap": false}},
            "size": {"field": "m", "type": "quantitative", "scale": {"domain": [2, 3, 4, 5, 6, 7], "range": [9, 36, 169, 576, 2116, 7744]},
              "legend": {"title": "M", "values": [2, 3, 4, 5, 6], "orient": "none", "legendX": 610, "legendY": -8, "titleFontSize": 35, "titleFontWeight": "normal", "titleAnchor": "middle", "titleAlign": "right", "titlePadding": 6, "labelFontSize": 30, "labelOffset": 36, "rowPadding": 4, "symbolStrokeWidth": 1, "symbolStrokeColor": "black", "symbolFillColor": "transparent"}}
          }
        },
        {
          "data": {"name": "bands"},
          "mark": {"type": "rule", "color": "#222222", "strokeWidth": 1.3},
          "encoding": {
            "y": {"field": "lat", "type": "quantitative", "scale": {"domain": [40, 42], "nice": false, "zero": false},
              "axis": {"orient": "right", "title": null, "labels": false, "values": [40, 40.1, 40.2, 40.3, 40.4, 40.5, 40.6, 40.7, 40.8, 40.9, 41, 41.1, 41.2, 41.3, 41.4, 41.5, 41.6, 41.7, 41.8, 41.9, 42], "tickSize": 6}}
          }
        },
        {
          "data": {"name": "event"},
          "mark": {"type": "rule", "color": "black", "strokeWidth": 1.5, "strokeDash": [7, 5]},
          "encoding": {
            "x": {"field": "t", "type": "quantitative", "scale": {"domain": [2001, 2002], "nice": false, "zero": false},
              "axis": {"orient": "top", "title": null, "labels": false, "values": [2001, 2001.08333, 2001.16667, 2001.25, 2001.33333, 2001.41667, 2001.5, 2001.58333, 2001.66667, 2001.75, 2001.83333, 2001.91667, 2002], "tickSize": 6}}
          }
        }
      ],
      "resolve": {"axis": {"x": "independent", "y": "independent"}}
    }
  ],
  "resolve": {"scale": {"size": "independent"}, "legend": {"size": "independent"}}
}
